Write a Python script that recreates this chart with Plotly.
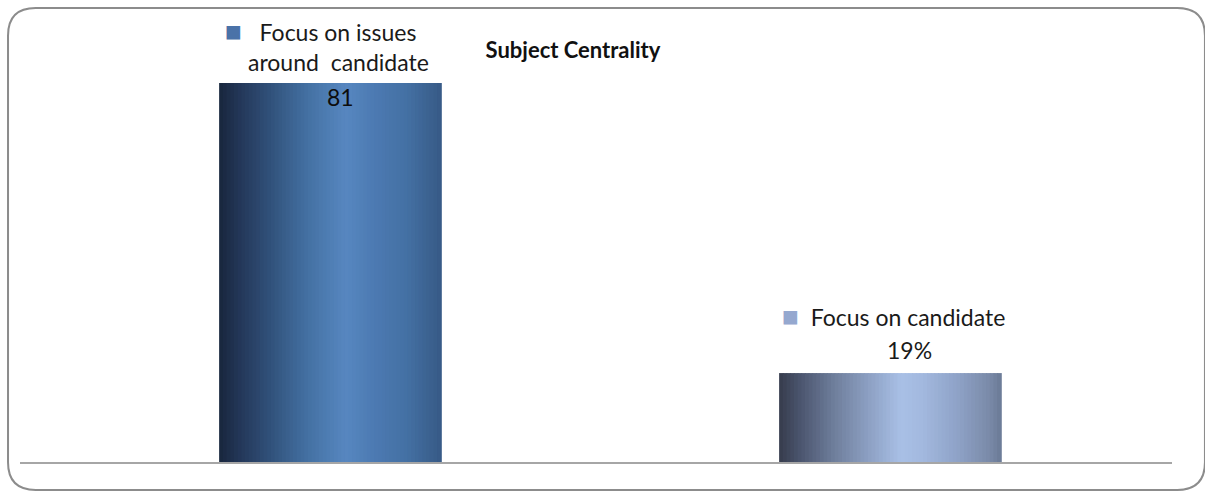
import plotly.graph_objects as go

# ---- data ----
categories = ["Focus on issues around candidate", "Focus on candidate"]
values = [81, 19]
value_labels = ["81", "19%"]
name_lines = [["Focus on issues", "around  candidate"], ["Focus on candidate"]]
legend_colors = ["#4a72a8", "#95a8cf"]
title_text = "Subject Centrality"

# gradient stops (position, colour) per bar, left -> right
grad1 = [(0.0, (24, 38, 61)), (0.1, (36, 56, 90)), (0.25, (51, 85, 127)), (0.4, (68, 113, 163)),
         (0.57, (87, 135, 192)), (0.7, (76, 122, 178)), (0.85, (68, 112, 163)), (1.0, (55, 90, 134))]
grad2 = [(0.0, (54, 60, 76)), (0.1, (76, 86, 112)), (0.25, (111, 127, 156)), (0.4, (140, 159, 194)),
         (0.55, (169, 192, 230)), (0.65, (162, 184, 222)), (0.8, (143, 163, 200)), (0.95, (122, 138, 168)),
         (1.0, (106, 122, 150))]


def interp(stops, t):
    for (p0, c0), (p1, c1) in zip(stops[:-1], stops[1:]):
        if p0 <= t <= p1:
            f = (t - p0) / (p1 - p0) if p1 > p0 else 0
            c = [round(a + (b - a) * f) for a, b in zip(c0, c1)]
            return "rgb(%d,%d,%d)" % tuple(c)
    c = stops[-1][1]
    return "rgb(%d,%d,%d)" % c


N = 60
bar_w = 0.396
step = bar_w / N
xs = [0, 1]

fig = go.Figure()
for k in range(N):
    t = (k + 0.5) / N
    fig.add_trace(go.Bar(
        x=xs, y=values,
        width=[step * 1.25] * 2,
        offset=[-bar_w / 2 + k * step] * 2,
        marker=dict(color=[interp(grad1, t), interp(grad2, t)], line=dict(width=0)),
        hoverinfo="skip", showlegend=False,
    ))

font_fam = "Lato, 'Open Sans', sans-serif"
fs = 23
sq = '<span style="color:%s;font-size:28px">■</span>'
annos = []
# bar 1 labels
annos.append(dict(x=0, y=values[0], xref="x", yref="y", showarrow=False,
                  text=(sq % legend_colors[0]) + '   ' + name_lines[0][0],
                  yshift=53, xshift=-10, font=dict(size=fs, color="#1a1a1a", family=font_fam)))
annos.append(dict(x=0, y=values[0], xref="x", yref="y", showarrow=False,
                  text=name_lines[0][1], yshift=21, xshift=8,
                  font=dict(size=fs, color="#1a1a1a", family=font_fam)))
annos.append(dict(x=0, y=values[0], xref="x", yref="y", showarrow=False,
                  text=value_labels[0], yshift=-14, xshift=10,
                  font=dict(size=fs, color="#0d0d0d", family=font_fam)))
# bar 2 labels
annos.append(dict(x=1, y=values[1], xref="x", yref="y", showarrow=False,
                  text=(sq % legend_colors[1]) + '  ' + name_lines[1][0],
                  yshift=58, xshift=4, font=dict(size=fs, color="#1a1a1a", family=font_fam)))
annos.append(dict(x=1, y=values[1], xref="x", yref="y", showarrow=False,
                  text=value_labels[1], yshift=23, xshift=20,
                  font=dict(size=fs, color="#1a1a1a", family=font_fam)))

# rounded frame (paper coords, plot area 20..1172 x 30..462 px)
x0, x1 = -0.0104, 1.0286
y0, y1 = -0.0648, 1.0509
rx, ry = 0.024, 0.064
path = (f"M {x0+rx},{y1} L {x1-rx},{y1} Q {x1},{y1} {x1},{y1-ry} "
        f"L {x1},{y0+ry} Q {x1},{y0} {x1-rx},{y0} L {x0+rx},{y0} "
        f"Q {x0},{y0} {x0},{y0+ry} L {x0},{y1-ry} Q {x0},{y1} {x0+rx},{y1} Z")

fig.update_layout(
    width=1205, height=491,
    margin=dict(l=20, r=33, t=30, b=29),
    paper_bgcolor="white", plot_bgcolor="white",
    barmode="overlay",
    title=dict(text="<b>%s</b>" % title_text, x=0.4755, xanchor="center", y=0.898, yanchor="middle",
               font=dict(size=22, color="#111111", family=font_fam)),
    xaxis=dict(range=[-0.5536, 1.5036], showticklabels=False, ticks="", showgrid=False,
               zeroline=False, showline=True, linecolor="#a6a6a6", linewidth=2),
    yaxis=dict(range=[0, 92.3], visible=False, showgrid=False, zeroline=False),
    annotations=annos,
    shapes=[dict(type="path", path=path, xref="paper", yref="paper",
                 line=dict(color="#8c8c8c", width=2), fillcolor="rgba(0,0,0,0)", layer="below")],
    showlegend=False,
)

fig.write_html("out.html")
